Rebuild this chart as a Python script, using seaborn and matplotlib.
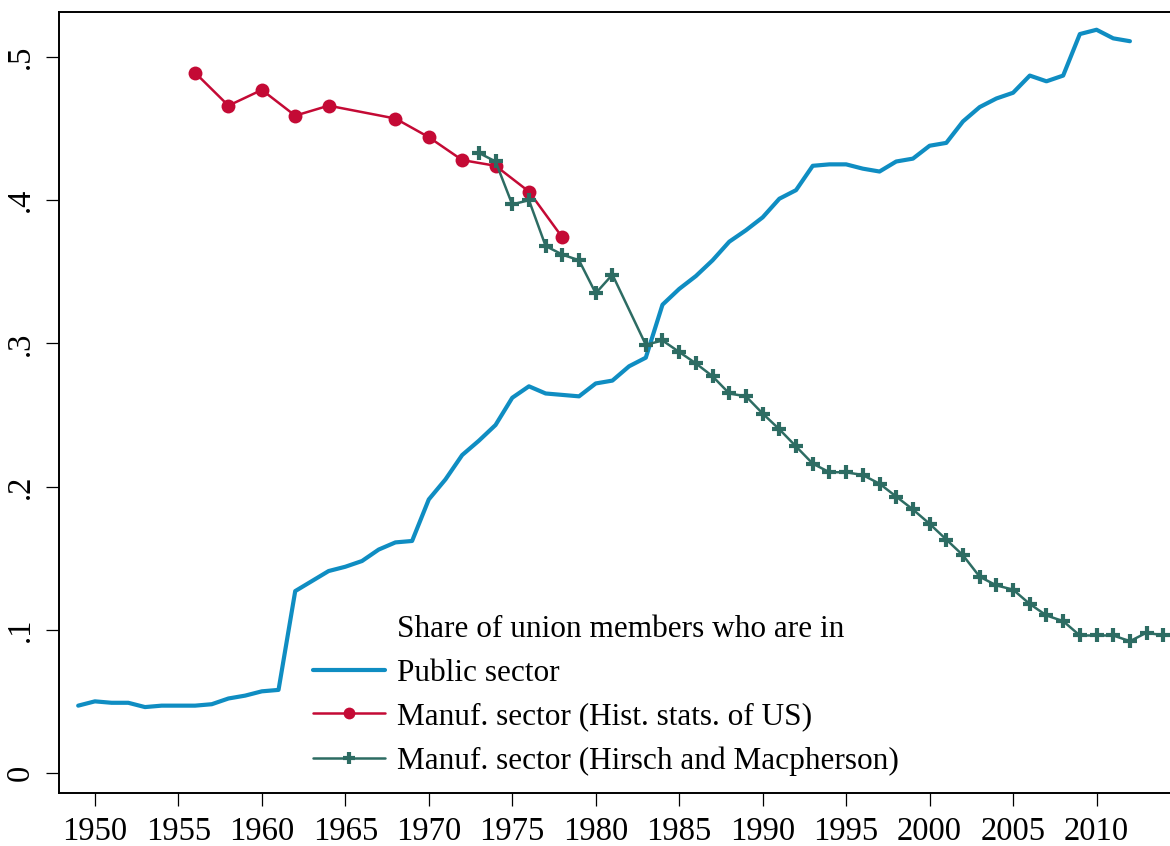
import numpy as np
import pandas as pd
import matplotlib
matplotlib.use('Agg')
import matplotlib.pyplot as plt
from matplotlib.lines import Line2D
import seaborn as sns

sns.set_style('white')
plt.rcParams['font.family'] = ['Liberation Serif', 'DejaVu Serif']
plt.rcParams['text.color'] = 'black'
plt.rcParams['xtick.color'] = 'black'
plt.rcParams['ytick.color'] = 'black'

# public sector share of union members, 1949-2012
pub_years = list(range(1949, 2013))
pub_share = [0.047, 0.050, 0.049, 0.049, 0.046, 0.047, 0.047, 0.047, 0.048, 0.052,
             0.054, 0.057, 0.058, 0.127, 0.134, 0.141, 0.144, 0.148, 0.156, 0.161,
             0.162, 0.191, 0.205, 0.222, 0.232, 0.243, 0.262, 0.270, 0.265, 0.264,
             0.263, 0.272, 0.274, 0.284, 0.290, 0.327, 0.338, 0.347, 0.358, 0.371,
             0.379, 0.388, 0.401, 0.407, 0.424, 0.425, 0.425, 0.422, 0.420, 0.427,
             0.429, 0.438, 0.440, 0.455, 0.465, 0.471, 0.475, 0.487, 0.483, 0.487,
             0.516, 0.519, 0.513, 0.511]

# manufacturing, historical statistics of the US
hist_years = [1956, 1958, 1960, 1962, 1964, 1968, 1970, 1972, 1974, 1976, 1978]
hist_share = [0.489, 0.466, 0.477, 0.459, 0.466, 0.457, 0.444, 0.428, 0.424, 0.406, 0.374]

# manufacturing, Hirsch and Macpherson (no 1982)
hm_years = [1973, 1974, 1975, 1976, 1977, 1978, 1979, 1980, 1981] + list(range(1983, 2015))
hm_share = [0.433, 0.427, 0.397, 0.400, 0.368, 0.362, 0.358, 0.335, 0.348,
            0.299, 0.302, 0.294, 0.286, 0.277, 0.265, 0.263, 0.251, 0.240, 0.228,
            0.216, 0.210, 0.210, 0.208, 0.202, 0.193, 0.184, 0.174, 0.163, 0.152,
            0.137, 0.131, 0.128, 0.118, 0.110, 0.106, 0.096, 0.096, 0.096, 0.092,
            0.098, 0.096]

blue = '#0f8dc2'
red = '#c40a35'
green = '#2d6c63'

fig = plt.figure(figsize=(11.7, 8.46), dpi=100)
ax = fig.add_axes([59 / 1170, 1 - 793 / 846, 1 - 59 / 1170, (793 - 12) / 846])

sns.lineplot(x=pub_years, y=pub_share, ax=ax, color=blue, lw=3.0,
             label='Public sector')
sns.lineplot(x=hist_years, y=hist_share, ax=ax, color=red, lw=1.8,
             marker='o', ms=10, mec=red, mew=0, label='Manuf. sector (Hist. stats. of US)')
sns.lineplot(x=hm_years, y=hm_share, ax=ax, color=green, lw=1.8,
             marker='+', ms=10, mec=green, mew=3, label='Manuf. sector (Hirsch and Macpherson)')

ax.set_xlim(1947.85, 2014.4)
ax.set_ylim(-0.014, 0.5314)
ax.set_xticks(range(1950, 2011, 5))
ax.set_yticks([0, 0.1, 0.2, 0.3, 0.4, 0.5])
ax.set_yticklabels(['0', '.1', '.2', '.3', '.4', '.5'], rotation=90, va='center')
ax.tick_params(axis='both', labelsize=23.5, direction='out', length=9.5, width=0.9,
               color='black', labelcolor='black', bottom=True, left=True)
ax.tick_params(axis='x', pad=7.5)
ax.tick_params(axis='y', pad=7)
ax.set_xlabel('')
ax.set_ylabel('')

for side in ['left', 'top', 'bottom']:
    ax.spines[side].set_visible(True)
    ax.spines[side].set_color('black')
    ax.spines[side].set_linewidth(1.4)
ax.spines['right'].set_visible(False)

handles, labels = ax.get_legend_handles_labels()
title_handle = Line2D([], [], linestyle='none')
ax.legend([title_handle] + handles, ['Share of union members who are in'] + labels,
          loc='upper left', bbox_to_anchor=(313 / 1170, 1 - 615 / 846),
          bbox_transform=fig.transFigure, frameon=False, fontsize=22.5,
          handlelength=2.3, handletextpad=0.4, labelspacing=0.47,
          borderpad=0, borderaxespad=0, markerscale=0.85)

fig.savefig('out.png', dpi=100)
